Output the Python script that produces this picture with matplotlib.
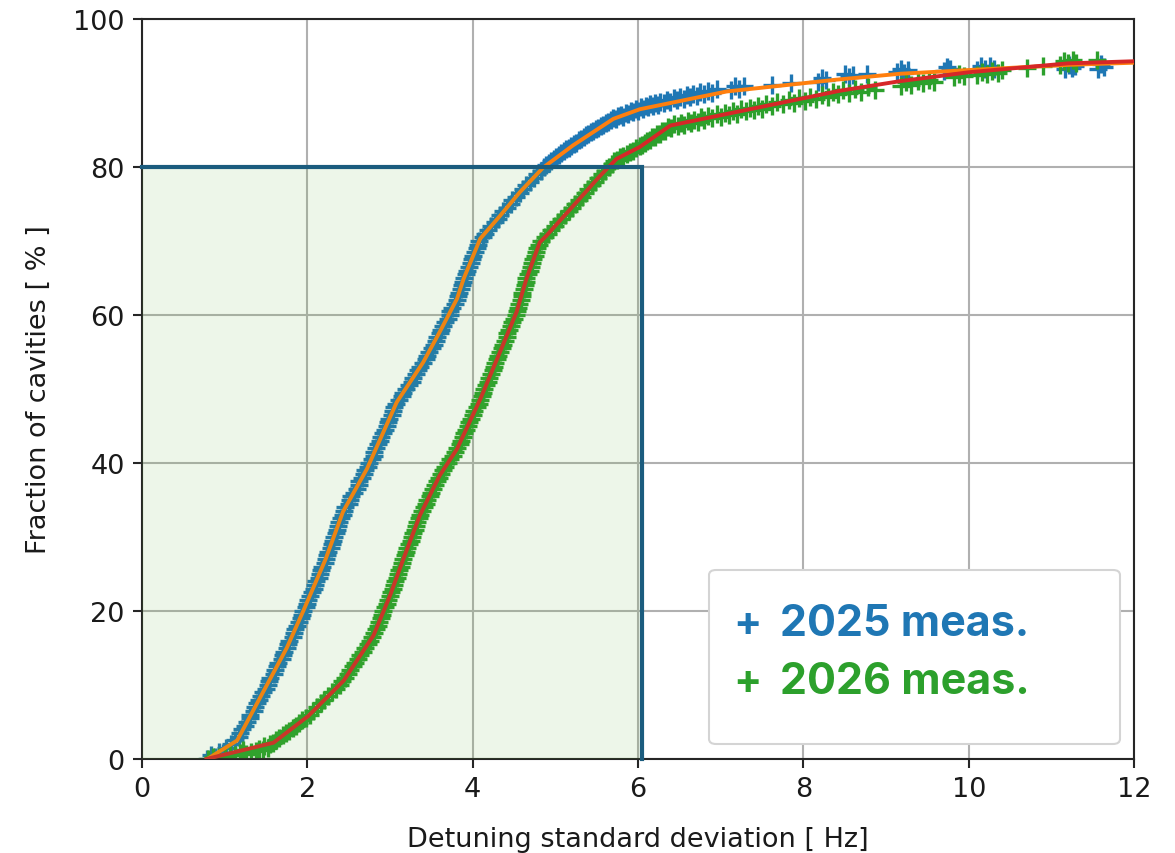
#!/usr/bin/env python3
"""Cumulative distribution of cavity detuning standard deviation, 2025 vs 2026."""

import matplotlib
matplotlib.use("Agg")
import matplotlib.pyplot as plt
import numpy as np
from matplotlib.patches import FancyBboxPatch


# 2025 measurement: (detuning std [Hz], cumulative fraction of cavities [%])
meas_2025 = [
    (0.79, 0.0), (0.83, 0.5), (0.88, 0.3), (0.93, 1.0), (0.98, 0.8), (1.02, 1.5), (1.08, 2.0),
    (1.12, 2.5), (1.17, 3.0), (1.19, 3.5), (1.21, 4.0), (1.25, 4.5), (1.27, 5.0), (1.30, 5.5),
    (1.31, 6.0), (1.35, 6.5), (1.37, 7.0), (1.39, 7.5), (1.41, 8.0), (1.44, 8.5), (1.46, 9.0),
    (1.50, 9.5), (1.52, 10.0), (1.53, 10.5), (1.55, 11.0), (1.59, 11.5), (1.61, 12.0),
    (1.63, 12.5), (1.65, 13.0), (1.69, 13.5), (1.71, 14.0), (1.72, 14.5), (1.75, 15.0),
    (1.77, 15.5), (1.78, 16.0), (1.82, 16.5), (1.84, 17.0), (1.85, 17.5), (1.87, 18.0),
    (1.90, 18.5), (1.92, 19.0), (1.93, 19.5), (1.95, 20.0), (1.98, 20.5), (2.00, 21.0),
    (2.01, 21.5), (2.03, 22.0), (2.06, 22.5), (2.08, 23.0), (2.09, 23.5), (2.11, 24.0),
    (2.14, 24.5), (2.15, 25.0), (2.16, 25.5), (2.18, 26.0), (2.21, 26.5), (2.23, 27.0),
    (2.24, 27.5), (2.25, 28.0), (2.28, 28.5), (2.30, 29.0), (2.31, 29.5), (2.32, 30.0),
    (2.35, 30.5), (2.36, 31.0), (2.37, 31.5), (2.38, 32.0), (2.41, 32.5), (2.43, 33.0),
    (2.44, 33.5), (2.46, 34.0), (2.50, 34.5), (2.52, 35.0), (2.53, 35.5), (2.56, 36.0),
    (2.60, 36.5), (2.62, 37.0), (2.63, 37.5), (2.66, 38.0), (2.69, 38.5), (2.70, 39.0),
    (2.73, 39.5), (2.75, 40.0), (2.78, 40.5), (2.80, 41.0), (2.81, 41.5), (2.83, 42.0),
    (2.86, 42.5), (2.88, 43.0), (2.89, 43.5), (2.91, 44.0), (2.94, 44.5), (2.96, 45.0),
    (2.97, 45.5), (2.99, 46.0), (3.02, 46.5), (3.04, 47.0), (3.05, 47.5), (3.07, 48.0),
    (3.11, 48.5), (3.14, 49.0), (3.16, 49.5), (3.19, 50.0), (3.23, 50.5), (3.26, 51.0),
    (3.28, 51.5), (3.31, 52.0), (3.34, 52.5), (3.36, 53.0), (3.40, 53.5), (3.43, 54.0),
    (3.45, 54.5), (3.47, 55.0), (3.51, 55.5), (3.53, 56.0), (3.55, 56.5), (3.57, 57.0),
    (3.60, 57.5), (3.62, 58.0), (3.64, 58.5), (3.66, 59.0), (3.70, 59.5), (3.72, 60.0),
    (3.73, 60.5), (3.75, 61.0), (3.79, 61.5), (3.81, 62.0), (3.82, 62.5), (3.83, 63.0),
    (3.86, 63.5), (3.87, 64.0), (3.88, 64.5), (3.90, 65.0), (3.92, 65.5), (3.93, 66.0),
    (3.96, 66.5), (3.98, 67.0), (3.99, 67.5), (4.00, 68.0), (4.03, 68.5), (4.05, 69.0),
    (4.06, 69.5), (4.08, 70.0), (4.12, 70.5), (4.15, 71.0), (4.18, 71.5), (4.22, 72.0),
    (4.27, 72.5), (4.31, 73.0), (4.33, 73.5), (4.37, 74.0), (4.42, 74.5), (4.46, 75.0),
    (4.48, 75.5), (4.52, 76.0), (4.57, 76.5), (4.61, 77.0), (4.65, 77.5), (4.69, 78.0),
    (4.74, 78.5), (4.78, 79.0), (4.82, 79.5),
    (4.86, 80.0), (4.89, 80.3), (4.92, 80.6), (4.95, 80.8), (4.98, 81.1), (5.01, 81.4),
    (5.04, 81.6), (5.07, 81.9), (5.10, 82.1), (5.13, 82.4), (5.16, 82.6), (5.19, 82.9),
    (5.22, 83.1), (5.25, 83.3), (5.28, 83.6), (5.31, 83.8), (5.34, 84.0), (5.37, 84.3),
    (5.40, 84.4), (5.43, 84.7), (5.46, 84.9), (5.49, 85.1), (5.52, 85.3), (5.55, 85.6),
    (5.58, 85.7), (5.61, 86.0), (5.64, 86.1), (5.67, 86.4), (5.70, 86.6), (5.73, 86.5),
    (5.76, 86.9), (5.79, 87.0), (5.82, 86.8), (5.85, 87.3), (5.88, 87.2), (5.91, 87.6),
    (5.94, 87.4), (5.97, 87.8), (6.00, 87.6), (6.03, 88.1), (6.06, 87.9), (6.09, 88.3),
    (6.12, 88.1), (6.15, 88.5), (6.18, 88.2), (6.21, 88.7), (6.24, 88.4), (6.27, 88.8),
    (6.31, 88.6), (6.35, 89.1), (6.39, 88.8), (6.43, 89.3), (6.47, 89.0), (6.51, 89.5),
    (6.55, 89.2), (6.59, 89.7), (6.63, 89.4), (6.67, 89.9), (6.71, 89.6), (6.75, 90.1),
    (6.80, 89.8), (6.85, 90.3), (6.90, 90.0), (6.95, 90.5), (7.12, 90.4), (7.17, 90.9),
    (7.22, 90.6), (7.28, 91.0), (7.62, 91.1), (7.85, 91.3), (8.18, 91.5), (8.22, 92.0),
    (8.27, 91.7), (8.50, 92.6), (8.55, 92.1), (8.60, 92.4), (8.77, 92.5), (9.13, 92.9),
    (9.18, 93.3), (9.22, 92.7), (9.26, 93.1), (9.70, 93.0), (9.74, 93.5), (9.77, 93.2),
    (10.10, 93.1), (10.15, 93.6), (10.20, 93.3), (10.26, 93.6), (10.30, 93.2), (11.17, 93.2),
    (11.21, 93.8), (11.25, 93.4), (11.29, 93.7), (11.56, 93.3), (11.60, 93.9), (11.64, 93.5),
]

# 2026 measurement
meas_2026 = [
    (0.80, 0.0), (0.86, 0.2), (0.93, 0.3), (1.00, 0.4), (1.06, 0.5), (1.12, 0.6), (1.18, 0.8),
    (1.22, 1.2), (1.26, 0.7), (1.32, 1.0), (1.38, 1.1), (1.42, 1.4), (1.46, 1.2), (1.48, 1.7),
    (1.52, 1.5), (1.55, 2.0), (1.58, 2.2), (1.62, 2.5), (1.66, 2.8), (1.70, 3.2), (1.74, 3.5),
    (1.78, 3.8), (1.82, 4.2), (1.86, 4.5), (1.90, 4.8), (1.94, 5.2), (1.98, 5.5), (2.03, 6.0),
    (2.07, 6.5), (2.12, 7.0), (2.16, 7.5), (2.20, 8.0), (2.25, 8.5), (2.30, 9.0), (2.34, 9.5),
    (2.39, 10.0), (2.42, 10.5), (2.46, 11.0), (2.49, 11.5), (2.52, 12.0), (2.55, 12.5),
    (2.58, 13.0), (2.61, 13.5), (2.64, 14.0), (2.67, 14.5), (2.70, 15.0), (2.73, 15.5),
    (2.76, 16.0), (2.78, 16.5), (2.81, 17.0), (2.83, 17.5), (2.85, 18.0), (2.87, 18.5),
    (2.89, 19.0), (2.90, 19.5), (2.92, 20.0), (2.94, 20.5), (2.96, 21.0), (2.98, 21.5),
    (3.00, 22.0), (3.01, 22.5), (3.03, 23.0), (3.05, 23.5), (3.06, 24.0), (3.08, 24.5),
    (3.09, 25.0), (3.11, 25.5), (3.13, 26.0), (3.15, 26.5), (3.16, 27.0), (3.18, 27.5),
    (3.19, 28.0), (3.21, 28.5), (3.23, 29.0), (3.25, 29.5), (3.26, 30.0), (3.28, 30.5),
    (3.30, 31.0), (3.31, 31.5), (3.33, 32.0), (3.35, 32.5), (3.36, 33.0), (3.39, 33.5),
    (3.41, 34.0), (3.43, 34.5), (3.45, 35.0), (3.48, 35.5), (3.50, 36.0), (3.52, 36.5),
    (3.54, 37.0), (3.57, 37.5), (3.59, 38.0), (3.62, 38.5), (3.64, 39.0), (3.67, 39.5),
    (3.70, 40.0), (3.73, 40.5), (3.76, 41.0), (3.79, 41.5), (3.81, 42.0), (3.84, 42.5),
    (3.86, 43.0), (3.88, 43.5), (3.90, 44.0), (3.92, 44.5), (3.94, 45.0), (3.96, 45.5),
    (3.98, 46.0), (4.00, 46.5), (4.02, 47.0), (4.05, 47.5), (4.07, 48.0), (4.09, 48.5),
    (4.11, 49.0), (4.12, 49.5), (4.14, 50.0), (4.16, 50.5), (4.18, 51.0), (4.20, 51.5),
    (4.22, 52.0), (4.24, 52.5), (4.26, 53.0), (4.27, 53.5), (4.29, 54.0), (4.31, 54.5),
    (4.33, 55.0), (4.35, 55.5), (4.37, 56.0), (4.39, 56.5), (4.41, 57.0), (4.42, 57.5),
    (4.44, 58.0), (4.46, 58.5), (4.48, 59.0), (4.50, 59.5), (4.52, 60.0), (4.53, 60.5),
    (4.55, 61.0), (4.56, 61.5), (4.58, 62.0), (4.59, 62.5), (4.60, 63.0), (4.62, 63.5),
    (4.63, 64.0), (4.64, 64.5), (4.65, 65.0), (4.67, 65.5), (4.69, 66.0), (4.70, 66.5),
    (4.72, 67.0), (4.73, 67.5), (4.75, 68.0), (4.76, 68.5), (4.78, 69.0), (4.80, 69.5),
    (4.83, 70.0), (4.87, 70.5), (4.91, 71.0), (4.95, 71.5), (4.99, 72.0), (5.03, 72.5),
    (5.07, 73.0), (5.12, 73.5), (5.16, 74.0), (5.20, 74.5), (5.24, 75.0), (5.28, 75.5),
    (5.32, 76.0), (5.36, 76.5), (5.40, 77.0), (5.44, 77.5), (5.48, 78.0), (5.52, 78.5),
    (5.56, 79.0), (5.60, 79.5),
    (5.65, 80.0), (5.68, 80.4), (5.71, 80.8), (5.74, 81.0), (5.78, 81.3), (5.82, 81.5),
    (5.86, 81.8), (5.90, 82.0), (5.94, 82.1), (5.98, 82.5), (6.02, 82.8), (6.05, 83.0),
    (6.08, 83.2), (6.11, 83.5), (6.14, 83.6), (6.17, 84.0), (6.20, 84.0), (6.23, 84.4),
    (6.26, 84.5), (6.29, 84.8), (6.32, 84.9), (6.36, 85.4), (6.40, 85.3), (6.44, 85.8),
    (6.48, 85.5), (6.52, 86.0), (6.56, 85.7), (6.60, 86.2), (6.64, 85.9), (6.68, 86.4),
    (6.72, 86.1), (6.76, 86.7), (6.80, 86.4), (6.85, 86.9), (6.90, 86.6), (6.95, 87.1),
    (7.00, 86.8), (7.05, 87.3), (7.10, 87.0), (7.15, 87.5), (7.20, 87.2), (7.25, 87.8),
    (7.30, 87.5), (7.35, 88.0), (7.40, 87.7), (7.45, 88.3), (7.50, 87.9), (7.55, 88.5),
    (7.62, 88.2), (7.68, 88.8), (7.75, 88.5), (7.82, 89.0), (7.88, 88.7), (7.95, 89.3),
    (8.02, 88.9), (8.08, 89.5), (8.15, 89.2), (8.22, 89.7), (8.30, 89.5), (8.36, 90.1),
    (8.42, 89.8), (8.48, 90.4), (8.55, 90.0), (8.62, 90.6), (8.70, 90.2), (8.78, 90.8),
    (8.86, 90.4), (9.18, 91.0), (9.24, 91.5), (9.30, 91.1), (9.38, 91.6), (9.45, 91.3),
    (9.52, 91.8), (9.58, 91.5), (9.82, 92.1), (9.88, 92.6), (9.94, 92.3), (10.10, 92.4),
    (10.16, 92.9), (10.22, 92.5), (10.28, 93.0), (10.35, 92.7), (10.40, 93.1), (10.70, 93.4),
    (10.90, 93.6), (11.10, 93.8), (11.15, 94.3), (11.20, 94.0), (11.26, 94.5), (11.30, 94.1),
    (11.55, 94.5),
]

# Piecewise fits through the measured distributions
fit_2025_x = [0.79, 1.15, 1.51, 1.75, 1.95, 2.22, 2.43, 2.72, 2.88, 3.08, 3.24, 3.40, 3.60,
              3.81, 3.89, 4.09, 4.33, 4.57, 4.85, 5.21, 5.70, 6.02, 7.07, 8.40, 9.17, 10.0,
              11.2, 12.3]
fit_2025_y = [0.0, 2.5, 10.0, 15.0, 20.0, 27.0, 33.4, 39.2, 43.2, 48.2, 50.9, 53.6, 57.7,
              62.2, 64.9, 70.3, 73.4, 76.6, 79.9, 82.9, 86.5, 87.8, 90.2, 91.8, 92.6, 93.1,
              93.8, 94.2]
fit_2026_x = [0.78, 1.59, 2.01, 2.44, 2.64, 2.80, 3.00, 3.16, 3.36, 3.60, 3.81, 4.09, 4.33,
              4.53, 4.65, 4.81, 4.89, 5.22, 5.54, 5.74, 6.02, 6.39, 8.44, 9.17, 10.0, 11.2,
              12.3]
fit_2026_y = [0.0, 2.2, 5.8, 10.6, 14.0, 16.7, 22.1, 27.0, 32.9, 38.3, 41.9, 48.6, 55.0,
              60.4, 64.9, 69.8, 70.7, 74.8, 78.8, 81.1, 82.7, 85.6, 90.3, 91.6, 92.8, 94.0,
              94.4]

# Target window: 80 % of cavities below this detuning std
target_fraction = 80.0
target_detuning = 6.05

series_labels = ["2025 meas.", "2026 meas."]


def main() -> None:
    plt.rcParams.update({"font.family": "DejaVu Sans"})

    fig = plt.figure(figsize=(11.75, 8.54), dpi=100)
    ax = fig.add_axes([0.1209, 0.1101, 0.8443, 0.8665])

    x25, y25 = zip(*meas_2025)
    x26, y26 = zip(*meas_2026)
    ax.plot(x25, y25, linestyle="none", marker="+", markersize=13,
            markeredgewidth=2.4, color="#1f77b4", zorder=2)
    ax.plot(x26, y26, linestyle="none", marker="+", markersize=13,
            markeredgewidth=2.4, color="#2ca02c", zorder=2)
    ax.plot(fit_2025_x, fit_2025_y, color="#ff7f0e", linewidth=2.8, zorder=3)
    ax.plot(fit_2026_x, fit_2026_y, color="#d62728", linewidth=2.8, zorder=3)

    # shaded acceptance window drawn over the curves
    ax.fill_between([0, target_detuning], 0, target_fraction, color="#61b437",
                    alpha=0.11, linewidth=0, zorder=4)
    ax.plot([0, target_detuning, target_detuning], [target_fraction, target_fraction, 0],
            color="#1b5c7e", linewidth=3.0, solid_joinstyle="miter", zorder=5,
            clip_on=False)

    ax.set_xlim(0, 12)
    ax.set_ylim(0, 100)
    ax.set_xticks(np.arange(0, 13, 2))
    ax.set_yticks(np.arange(0, 101, 20))
    ax.grid(True, color="#b0b0b0", linewidth=1.5, zorder=0)
    ax.set_axisbelow(True)
    for spine in ax.spines.values():
        spine.set_linewidth(1.5)
        spine.set_color("#262626")
    ax.tick_params(labelsize=19.5, length=6.5, width=1.5, colors="#262626",
                   labelcolor="#1a1a1a", pad=6)
    ax.set_xlabel("Detuning standard deviation [ Hz]", fontsize=19.5, color="#1a1a1a",
                  labelpad=17)
    ax.set_ylabel("Fraction of cavities [ % ]", fontsize=19.5, color="#1a1a1a", labelpad=15)

    # legend box
    box = FancyBboxPatch((709 / 1175, 1 - 745 / 854), 411 / 1175, 174 / 854,
                         boxstyle="round,pad=0,rounding_size=0.006",
                         transform=fig.transFigure, facecolor="white",
                         edgecolor="#d4d4d4", linewidth=1.5, zorder=10)
    fig.patches.append(box)
    for label, color, ypx in zip(series_labels, ["#1f77b4", "#2ca02c"], [625, 683]):
        yf = 1 - ypx / 854
        fig.text(747 / 1175, yf, "+", color=color, fontsize=30, fontweight="bold",
                 family="Inter", ha="center", va="center", zorder=11)
        fig.text(780 / 1175, yf, label, color=color, fontsize=31, fontweight="bold",
                 family="Inter", ha="left", va="center", zorder=11)

    fig.savefig("out.png", dpi=100, facecolor="white")
    plt.close(fig)


if __name__ == "__main__":
    main()
